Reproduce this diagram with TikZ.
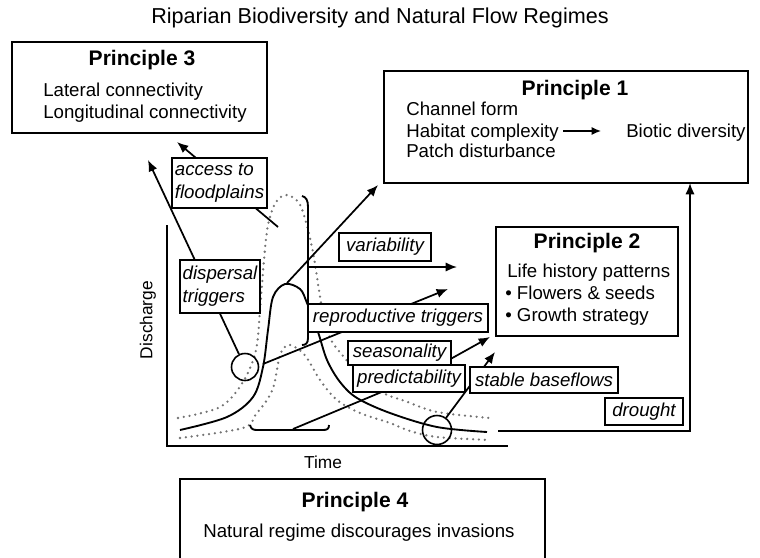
\documentclass[tikz,border=0pt]{standalone}
\usepackage{fontspec}
\setmainfont{Liberation Sans}
\usetikzlibrary{arrows.meta}
\newcommand\bodyfont{\fontsize{14}{17}\selectfont}
\newcommand\prfont{\fontsize{15.8}{18}\selectfont\bfseries}
\newcommand\labfont{\fontsize{14}{17.5}\selectfont\itshape}
\newcommand\axfont{\fontsize{13}{15}\selectfont}
\begin{document}
\begin{tikzpicture}[x=0.75pt,y=-0.75pt,
  pbox/.style={draw, line width=1.3pt, inner sep=0pt},
  lab/.style={draw, fill=white, line width=1.1pt, inner sep=0pt, font=\labfont, align=left},
  txt/.style={font=\bodyfont, inner sep=0pt, anchor=base west},
  ptitle/.style={font=\prfont, inner sep=0pt, anchor=base},
  arr/.style={line width=1.3pt, -{Latex[length=8.5pt,width=7pt]}},
  curve/.style={line width=1.4pt},
  dots/.style={line width=1.9pt, black!55, line cap=round, dash pattern=on 0pt off 4.4pt},
  ring/.style={draw, circle, line width=1.2pt, inner sep=0pt}]
\useasboundingbox (0,0) rectangle (760,557);

% title
\node[font=\fontsize{16.2}{19}\selectfont, inner sep=0pt] (title) at (380,18) {Riparian Biodiversity and Natural Flow Regimes};

% axes
\coordinate (ytop) at (167,225);
\coordinate (orig) at (167,446);
\coordinate (xend) at (508,446);
\draw[line width=1.3pt] (ytop) -- (orig) -- (xend);
\node[font=\axfont, rotate=90, inner sep=0pt] (disch) at (148,320) {Discharge};
\node[font=\axfont, inner sep=0pt] (time) at (323,462) {Time};

% dotted envelopes
\draw[dots] plot[smooth, tension=0.55] coordinates {(178,418) (220,407) (243,382) (256,350) (260,310) (264,260) (268,225) (276,202) (287,195) (299,203) (306,222) (313,252) (319,290) (324,320) (331,340) (343,356) (362,377) (383,393) (405,401) (437,412) (490,418)};
\draw[dots] plot[smooth, tension=0.55] coordinates {(180,438) (243,428) (256,414) (267,400) (274,385) (280,355) (288,345) (298,349) (307,358) (320,380) (337,400) (360,413) (390,423) (410,431) (437,437) (490,440)};

% solid hydrograph
\draw[curve] plot[smooth, tension=0.55] coordinates {(180,430) (227,417) (253,397) (263,367) (268,330) (273,297) (285,284) (300,289) (307,303) (318,332) (327,360) (340,382) (357,398) (390,413) (437,427) (487,432)};

% brackets
\draw[curve] (302,196) .. controls (306,197) and (308,200) .. (308,207) -- (308,338) .. controls (308,343) and (306,345) .. (302,345);
\draw[curve] (250,425) .. controls (251,429) and (253,430) .. (257,430) -- (323,430) .. controls (327,430) and (329,429) .. (329,425);

% circles
\node[ring, minimum size=27*0.75pt] (cL) at (245,367) {};
\node[ring, minimum size=29*0.75pt] (cR) at (437,430) {};

% connector coordinates
\coordinate (accS) at (278,227);
\coordinate (accE) at (177,142);
\coordinate (disE) at (148,160);
\coordinate (repS) at (263,364);
\coordinate (repE) at (448,289);
\coordinate (preS) at (293,429);
\coordinate (preM) at (420,376);
\coordinate (preE) at (490,337);
\coordinate (staE) at (495,352);
\coordinate (peakS) at (287,283);
\coordinate (peakE) at (378,185);
\coordinate (varS) at (308,267);
\coordinate (varE) at (457,267);
\coordinate (droS) at (498,431);
\coordinate (droE) at (690,183);

% connectors
\draw[arr] (accS) -- (accE);
\draw[arr] (cL) -- (disE);
\draw[arr] (repS) -- (repE);
\draw[arr] (preS) -- (preM) -- (preE);
\draw[arr] (cR) -- (staE);
\draw[arr] (peakS) -- (peakE);
\draw[arr] (varS) -- (varE);
\draw[arr] (droS) -| (droE);

% label boxes
\node[lab, minimum width=95*0.75pt, minimum height=50*0.75pt] (acc) at (219.5,183) {access to\\floodplains};
\node[lab, minimum width=80*0.75pt, minimum height=53*0.75pt] (dis) at (220,286.5) {dispersal\\triggers};
\node[lab, minimum width=92*0.75pt, minimum height=28*0.75pt] (var) at (385,247) {variability};
\node[lab, minimum width=180*0.75pt, minimum height=28*0.75pt] (rep) at (398,318) {reproductive triggers};
\node[lab, minimum width=103*0.75pt, minimum height=24*0.75pt] (sea) at (399.5,353) {seasonality};
\node[lab, minimum width=112*0.75pt, minimum height=27*0.75pt] (pre) at (409,378.5) {predictability};
\node[lab, minimum width=148*0.75pt, minimum height=26*0.75pt] (sta) at (544,380) {stable baseflows};
\node[lab, minimum width=78*0.75pt, minimum height=27*0.75pt] (dro) at (644,411.5) {drought};

% Principle 3
\node[pbox, minimum width=255*0.75pt, minimum height=91*0.75pt] (p3) at (139.5,87.5) {};
\node[ptitle] (p3t) at (142,65) {Principle 3};
\node[txt] (p3a) at (43,96.5) {Lateral connectivity};
\node[txt] (p3b) at (43,118) {Longitudinal connectivity};

% Principle 1
\node[pbox, minimum width=364*0.75pt, minimum height=112*0.75pt] (p1) at (566,127) {};
\node[ptitle] (p1t) at (575,95) {Principle 1};
\node[txt] (p1a) at (406,115) {Channel form};
\node[txt] (p1b) at (406,137) {Habitat complexity};
\node[txt] (p1c) at (406,157) {Patch disturbance};
\node[txt] (p1d) at (626,137) {Biotic diversity};
\coordinate (hab1) at (563,131);
\coordinate (hab2) at (601,131);
\draw[line width=1pt, -{Latex[length=7pt,width=6pt]}] (hab1) -- (hab2);

% Principle 2
\node[pbox, minimum width=182*0.75pt, minimum height=109*0.75pt] (p2) at (587,281.5) {};
\node[ptitle] (p2t) at (587,248) {Principle 2};
\node[txt] (p2a) at (507,277) {Life history patterns};
\node[txt] (p2b) at (505,299) {\textbullet\ Flowers \& seeds};
\node[txt] (p2c) at (505,321) {\textbullet\ Growth strategy};

% Principle 4
\coordinate (p4a) at (180,575);
\coordinate (p4b) at (180,479);
\coordinate (p4c) at (545,479);
\coordinate (p4d) at (545,575);
\draw[line width=1.3pt] (p4a) -- (p4b) -- (p4c) -- (p4d);
\node[ptitle] (p4t) at (355,507) {Principle 4};
\node[font=\bodyfont, inner sep=0pt, anchor=base] (p4x) at (359,537) {Natural regime discourages invasions};
\end{tikzpicture}
\end{document}
